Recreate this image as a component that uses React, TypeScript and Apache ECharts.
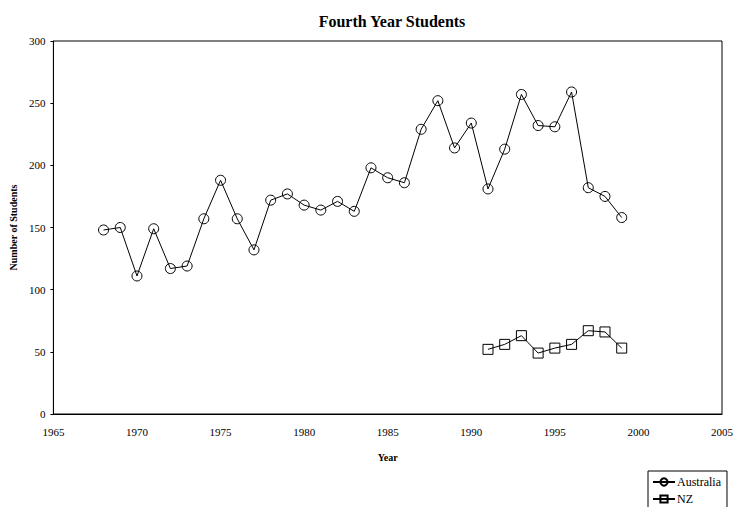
import React, { useEffect, useRef } from "react";
import * as echarts from "echarts";

const ausYears = [1968, 1969, 1970, 1971, 1972, 1973, 1974, 1975, 1976, 1977, 1978, 1979, 1980, 1981, 1982, 1983, 1984, 1985, 1986, 1987, 1988, 1989, 1990, 1991, 1992, 1993, 1994, 1995, 1996, 1997, 1998, 1999];
const ausValues = [148, 150, 111, 149, 117, 119, 157, 188, 157, 132, 172, 177, 168, 164, 171, 163, 198, 190, 186, 229, 252, 214, 234, 181, 213, 257, 232, 231, 259, 182, 175, 158];
const nzYears = [1991, 1992, 1993, 1994, 1995, 1996, 1997, 1998, 1999];
const nzValues = [52, 56, 63, 49, 53, 56, 67, 66, 53];

const FONT = "'Liberation Serif', 'DejaVu Serif', serif";

export default function App() {
  const ref = useRef<HTMLDivElement>(null);
  useEffect(() => {
    if (!ref.current) return;
    const chart = echarts.init(ref.current, undefined, { renderer: "svg" });
    const mk = (ys: number[], vs: number[]) => ys.map((y, i) => [y, vs[i]]);
    chart.setOption({
      animation: false,
      backgroundColor: "#fff",
      title: {
        text: "Fourth Year Students",
        left: 387,
        top: 8,
        textAlign: "center",
        textStyle: { fontFamily: FONT, fontSize: 16, fontWeight: "bold", color: "#000" },
      },
      grid: {
        left: 53,
        top: 41,
        right: 736 - 722,
        bottom: 507 - 414,
        show: true,
        borderColor: "#000",
        borderWidth: 1,
        backgroundColor: "transparent",
      },
      legend: {
        left: 648,
        top: 471,
        height: 60,
        width: 80,
        orient: "vertical",
        align: "left",
        itemWidth: 22,
        itemHeight: 9,
        itemGap: 5,
        padding: [5, 6, 14, 4],
        borderColor: "#000",
        borderWidth: 1,
        textStyle: { fontFamily: FONT, fontSize: 12, color: "#000", padding: [0, 0, 0, -3] },
        data: ["Australia", "NZ"],
      },
      xAxis: {
        type: "value",
        min: 1965,
        max: 2005,
        interval: 5,
        name: "Year",
        nameLocation: "middle",
        nameGap: 38,
        nameTextStyle: { fontFamily: FONT, fontSize: 10, fontWeight: "bold", color: "#000" },
        axisLine: { show: true, lineStyle: { color: "#000" } },
        axisTick: { show: false },
        splitLine: { show: false },
        axisLabel: { fontFamily: FONT, fontSize: 11, color: "#000", margin: 12, formatter: (v: number) => String(v) },
      },
      yAxis: {
        type: "value",
        min: 0,
        max: 300,
        interval: 50,
        name: "Number of Students",
        nameLocation: "middle",
        nameGap: 35,
        nameTextStyle: { fontFamily: FONT, fontSize: 10, fontWeight: "bold", color: "#000" },
        axisLine: { show: true, lineStyle: { color: "#000" } },
        axisTick: { show: true, length: 3, lineStyle: { color: "#000" } },
        splitLine: { show: false },
        axisLabel: { fontFamily: FONT, fontSize: 11, color: "#000", margin: 8 },
      },
      series: [
        {
          name: "Australia",
          type: "line",
          data: mk(ausYears, ausValues),
          symbol: "circle",
          symbolSize: 10,
          lineStyle: { color: "#000", width: 1 },
          itemStyle: { color: "rgba(255,255,255,0)", borderColor: "#000", borderWidth: 1 },
        },
        {
          name: "NZ",
          type: "line",
          data: mk(nzYears, nzValues),
          symbol: "rect",
          symbolSize: 10,
          lineStyle: { color: "#000", width: 1 },
          itemStyle: { color: "rgba(255,255,255,0)", borderColor: "#000", borderWidth: 1 },
        },
      ],
    });
    return () => chart.dispose();
  }, []);
  return (
    <div
      ref={ref}
      style={{ position: "fixed", left: 0, top: 0, width: 736, height: 507, background: "#fff" }}
    />
  );
}
